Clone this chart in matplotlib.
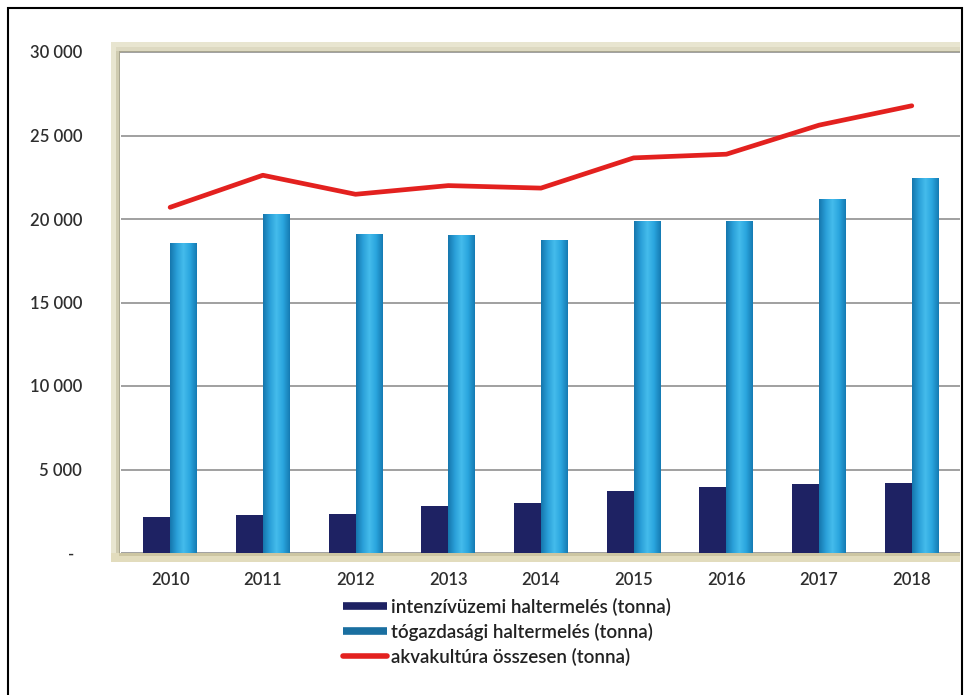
import numpy as np
import matplotlib
matplotlib.use('Agg')
import matplotlib.pyplot as plt
from matplotlib.patches import Rectangle
from matplotlib.lines import Line2D
from matplotlib.colors import LinearSegmentedColormap

plt.rcParams['font.family'] = ['Lato', 'DejaVu Sans']
plt.rcParams['font.weight'] = 'semibold'

# --- Data (tonnes) ---
years = ['2010', '2011', '2012', '2013', '2014', '2015', '2016', '2017', '2018']
intenziv = [2130, 2290, 2330, 2830, 2970, 3730, 3950, 4150, 4210]
togazdasagi = [18560, 20300, 19100, 19040, 18740, 19880, 19860, 21200, 22470]
osszesen = [20700, 22620, 21480, 22000, 21850, 23660, 23880, 25620, 26780]

y_ticks = [0, 5000, 10000, 15000, 20000, 25000, 30000]
y_tick_labels = ['-  ', '5 000', '10 000', '15 000', '20 000', '25 000', '30 000']

labels = ['intenzívüzemi haltermelés (tonna)',
          'tógazdasági haltermelés (tonna)',
          'akvakultúra összesen (tonna)']

W, H = 970, 695
fig = plt.figure(figsize=(W / 100, H / 100), dpi=100)
fig.patch.set_facecolor('white')

# axes placed by pixel positions of the reference plot area
ax_l, ax_r, ax_t, ax_b = 121, 960, 52, 553
ax = fig.add_axes([ax_l / W, 1 - ax_b / H, (ax_r - ax_l) / W, (ax_b - ax_t) / H])

x = np.arange(len(years))
bw = 0.29

ax.yaxis.grid(True, color='#909090', linewidth=1.2)
ax.set_axisbelow(True)

navy = '#1e2263'
ax.bar(x - bw / 2, intenziv, width=bw, color=navy, zorder=2)
bars = ax.bar(x + bw / 2, togazdasagi, width=bw, color='#2aa3dc', zorder=2)

# cylinder-like shading on the light blue bars
cyl = LinearSegmentedColormap.from_list(
    'cyl', ['#1677ad', '#2a9fd8', '#45bcec', '#2aa5de', '#157bb3'])
grad = np.linspace(0, 1, 64).reshape(1, -1)
for b in bars:
    bx, by = b.get_x(), b.get_y()
    im = ax.imshow(grad, cmap=cyl, aspect='auto', zorder=2.5,
                   extent=[bx, bx + b.get_width(), by, by + b.get_height()])
    im.set_clip_path(b)
ax.set_xlim(-0.53, len(years) - 0.48)
ax.set_ylim(0, 30000)

ax.plot(x, osszesen, color='#e3211f', linewidth=3.4,
        solid_capstyle='round', solid_joinstyle='round', zorder=3)

ax.set_xticks(x)
ax.set_xticklabels(years)
ax.set_yticks(y_ticks)
ax.set_yticklabels(y_tick_labels)
ax.tick_params(axis='both', length=0, labelsize=12, labelcolor='#2e2e2e')
ax.tick_params(axis='y', pad=28)
ax.tick_params(axis='x', pad=14)
for s in ax.spines.values():
    s.set_visible(False)


def px_rect(x0, y0, x1, y1, **kw):
    fig.add_artist(Rectangle((x0 / W, 1 - y1 / H), (x1 - x0) / W, (y1 - y0) / H,
                             transform=fig.transFigure, **kw))


# 3D-like wall and floor bands
wall = '#e8e5d0'
px_rect(111, 42, ax_r, 52, facecolor=wall, edgecolor='none', zorder=0)
px_rect(111, 42, 120, ax_b + 8, facecolor=wall, edgecolor='none', zorder=0)
px_rect(116, 47, 120, ax_b + 4, facecolor='#cfcbb0', edgecolor='none', zorder=0)
px_rect(116, 47, ax_r, 51, facecolor='#ddd9c1', edgecolor='none', zorder=0)
px_rect(111, ax_b, ax_r, ax_b + 9, facecolor='#e2dcbd', edgecolor='none', zorder=0)
px_rect(119, ax_b, ax_r, ax_b + 3, facecolor='#cdc6a2', edgecolor='none', zorder=0)
px_rect(119, 51, ax_r, 52.5, facecolor='#a8a590', edgecolor='none', zorder=0)
px_rect(119, 51, 120.5, ax_b, facecolor='#a8a590', edgecolor='none', zorder=0)

# outer frame
px_rect(8, 8, 962, 710, facecolor='none', edgecolor='black', linewidth=1.5, zorder=5)

handles = [Line2D([], [], color=navy, linewidth=5.5, solid_capstyle='butt'),
           Line2D([], [], color='#1a6fa0', linewidth=5.5, solid_capstyle='butt'),
           Line2D([], [], color='#e3211f', linewidth=4, solid_capstyle='round')]
fig.legend(handles, labels, loc='upper left', bbox_to_anchor=(343 / W, 1 - 598 / H),
           frameon=False, prop={'size': 13.5, 'weight': 'semibold'},
           handlelength=2.35, handletextpad=0.2,
           labelspacing=0.36, borderpad=0, borderaxespad=0, labelcolor='#222222')

fig.savefig('out.png', dpi=100)
